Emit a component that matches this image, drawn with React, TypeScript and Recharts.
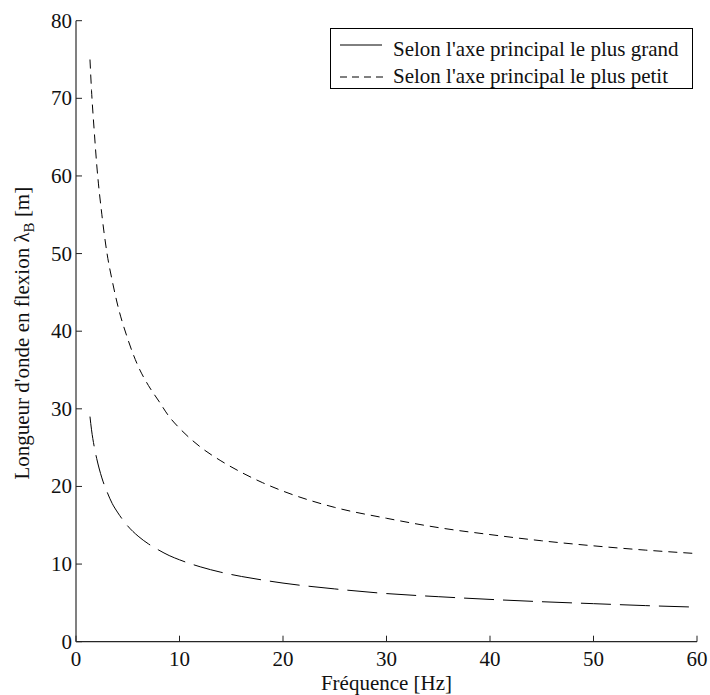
import { Legend, Line, LineChart, XAxis, YAxis } from 'recharts';

const freqs = [1.35, 1.5, 1.75, 2, 2.5, 3, 3.5, 4, 5, 6, 7, 8, 9, 10, 12, 14, 16, 18, 20, 25, 30, 35, 40, 45, 50, 55, 60];
const grandAxis = [29, 27.3, 25.2, 23.6, 21.1, 19.3, 17.8, 16.7, 14.9, 13.6, 12.6, 11.8, 11.1, 10.55, 9.65, 8.95, 8.4, 7.95, 7.55, 6.8, 6.2, 5.8, 5.45, 5.15, 4.9, 4.65, 4.45];
const petitAxis = [75, 71, 66, 61.5, 55, 50, 46.5, 43.5, 39, 35.5, 33, 31, 29, 27.5, 25.1, 23.3, 21.8, 20.5, 19.4, 17.3, 15.9, 14.7, 13.8, 13.0, 12.35, 11.8, 11.35];
const xTicks = [0, 10, 20, 30, 40, 50, 60];
const yTicks = [0, 10, 20, 30, 40, 50, 60, 70, 80];
const seriesNames = ["Selon l'axe principal le plus grand", "Selon l'axe principal le plus petit"];

const data = freqs.map((f, i) => ({ f, grand: grandAxis[i], petit: petitAxis[i] }));

const textStyle = { fontFamily: '"Liberation Serif", "Times New Roman", Times, serif', fontSize: 21 };

function XTick({ x, y, payload }: any) {
  return (
    <g>
      <line x1={x} y1={y} x2={x} y2={y - 6} stroke="#222" strokeWidth={1} />
      <text x={x} y={y + 24} textAnchor="middle" style={textStyle} fill="#111">
        {payload.value}
      </text>
    </g>
  );
}

function YTick({ x, y, payload }: any) {
  return (
    <g>
      <line x1={x} y1={y} x2={x + 6} y2={y} stroke="#222" strokeWidth={1} />
      <text x={x - 4} y={y + 7} textAnchor="end" style={textStyle} fill="#111">
        {payload.value}
      </text>
    </g>
  );
}

function LegendBox() {
  return (
    <svg width={364} height={62} style={{ display: 'block' }}>
      <rect x={0.5} y={0.5} width={362} height={60} fill="#fff" stroke="#000" strokeWidth={1} />
      <line x1={10} y1={17} x2={52} y2={17} stroke="#000" strokeWidth={1} />
      <text x={63} y={28} style={textStyle} fill="#111">{seriesNames[0]}</text>
      <line x1={10} y1={49} x2={57} y2={49} stroke="#000" strokeWidth={1} strokeDasharray="7 5" />
      <text x={63} y={55} style={textStyle} fill="#111">{seriesNames[1]}</text>
    </svg>
  );
}

export default function App() {
  return (
    <div style={{ position: 'absolute', left: 0, top: 0, width: 710, height: 695, background: '#fff' }}>
      <LineChart width={710} height={695} data={data} margin={{ top: 20.7, right: 13, bottom: 23.3, left: 0 }}>
        <XAxis
          type="number"
          dataKey="f"
          domain={[0, 60]}
          ticks={xTicks}
          height={30}
          tickSize={0}
          tickMargin={0}
          tickLine={false}
          tick={<XTick />}
          axisLine={{ stroke: '#262626', strokeWidth: 1.2 }}
          label={{
            content: ({ viewBox }: any) => (
              <text x={viewBox.x + viewBox.width / 2} y={690} textAnchor="middle" style={textStyle} fill="#111">
                Fréquence [Hz]
              </text>
            ),
          }}
        />
        <YAxis
          type="number"
          domain={[0, 80]}
          ticks={yTicks}
          width={76}
          tickSize={0}
          tickMargin={0}
          tickLine={false}
          tick={<YTick />}
          axisLine={{ stroke: '#808080', strokeWidth: 2 }}
          label={{
            content: ({ viewBox }: any) => {
              const cy = viewBox.y + viewBox.height / 2 + 2;
              return (
                <text x={29} y={cy} transform={`rotate(-90, 29, ${cy})`} textAnchor="middle" style={textStyle} fill="#111">
                  Longueur d'onde en flexion λ<tspan style={{ fontSize: 15 }} dy={5}>B</tspan>
                  <tspan dy={-5}> [m]</tspan>
                </text>
              );
            },
          }}
        />
        <Legend
          layout="vertical"
          align="center"
          verticalAlign="middle"
          content={() => <LegendBox />}
          wrapperStyle={{ position: 'absolute', left: 330, top: 28, width: 364, height: 62 }}
        />
        <Line
          type="monotone"
          dataKey="grand"
          name={seriesNames[0]}
          stroke="#000"
          strokeWidth={1}
          strokeDasharray="30 9"
          dot={false}
          isAnimationActive={false}
        />
        <Line
          type="monotone"
          dataKey="petit"
          name={seriesNames[1]}
          stroke="#000"
          strokeWidth={1}
          strokeDasharray="9 6"
          dot={false}
          isAnimationActive={false}
        />
      </LineChart>
    </div>
  );
}
